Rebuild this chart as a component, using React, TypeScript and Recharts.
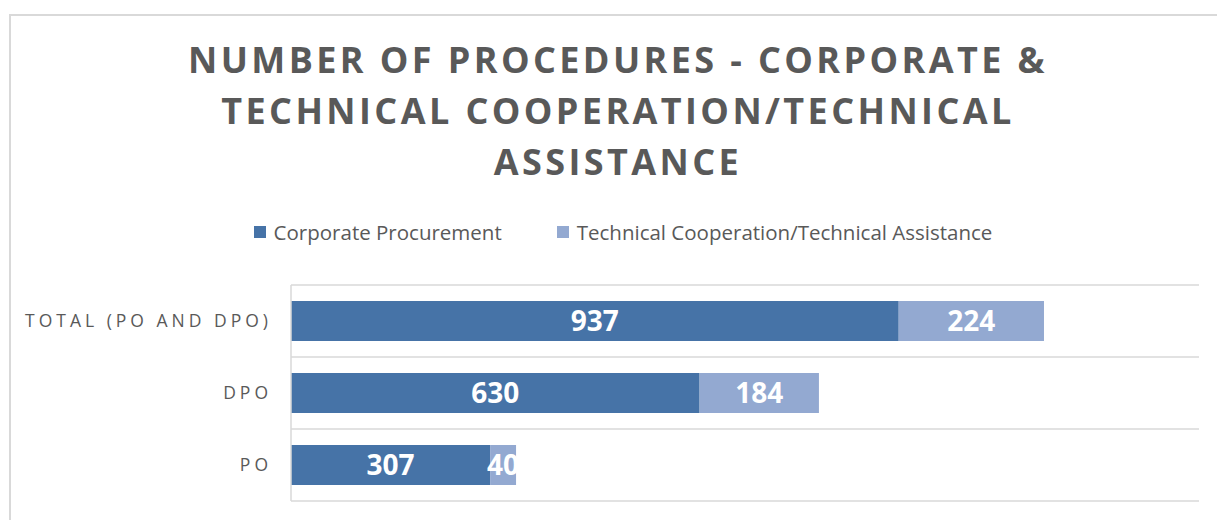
import React from "react";
import { BarChart, Bar, XAxis, YAxis, CartesianGrid, LabelList, Legend } from "recharts";

const categories = ["TOTAL (PO AND DPO)", "DPO", "PO"];
const corporate = [937, 630, 307];
const technical = [224, 184, 40];
const seriesNames = ["Corporate Procurement", "Technical Cooperation/Technical Assistance"];
const titleLines = ["NUMBER OF PROCEDURES - CORPORATE &", "TECHNICAL COOPERATION/TECHNICAL", "ASSISTANCE"];

const COLORS = ["#4673A7", "#93A9D1"];
const TEXT = "#595959";
const GRID = "#D9D9D9";
const FONT = "'Open Sans', sans-serif";

const data = categories.map((c, i) => ({ name: c, corporate: corporate[i], technical: technical[i] }));

const LegendContent = () => (
  <div style={{ display: "flex", justifyContent: "center", fontFamily: FONT, fontSize: 20.5, color: TEXT }}>
    {seriesNames.map((n, i) => (
      <div key={n} style={{ display: "flex", alignItems: "center", marginRight: i === 0 ? 55 : 0 }}>
        <span style={{ width: 12, height: 12, background: COLORS[i], display: "inline-block", marginRight: 8 }} />
        <span>{n}</span>
      </div>
    ))}
  </div>
);

const YTick = (props: any) => {
  const { x, y, payload } = props;
  return (
    <text x={x} y={y} dy={6} textAnchor="end" fill={TEXT} fontFamily={FONT} fontSize={17.5} letterSpacing={4}>
      {payload.value}
    </text>
  );
};

export default function App() {
  return (
    <div style={{ position: "absolute", left: 0, top: 0, width: 1217, height: 520, overflow: "hidden", background: "#fff" }}>
      <div style={{ position: "absolute", left: 9, top: 14, width: 1400, height: 700, border: `2px solid ${GRID}`, boxSizing: "border-box" }} />
      <div
        style={{
          position: "absolute",
          left: 0,
          top: 34,
          width: 1236,
          textAlign: "center",
          fontFamily: FONT,
          fontWeight: 700,
          fontSize: 36,
          lineHeight: "51px",
          letterSpacing: 3.4,
          color: TEXT,
        }}
      >
        {titleLines.map((l) => (
          <div key={l}>{l}</div>
        ))}
      </div>
      <div style={{ position: "absolute", left: 0, top: 0 }}>
        <BarChart
          width={1217}
          height={520}
          data={data}
          layout="vertical"
          margin={{ top: 285, right: 18, bottom: 19, left: 91 }}
          barSize={40}
        >
          <CartesianGrid
            vertical={false}
            stroke={GRID}
            strokeWidth={1.5}
            horizontalCoordinatesGenerator={({ offset }: any) => {
              const n = categories.length;
              return Array.from({ length: n + 1 }, (_, i) => offset.top + (offset.height * i) / n);
            }}
          />
          <XAxis type="number" domain={[0, 1400]} hide />
          <YAxis
            type="category"
            dataKey="name"
            width={200}
            axisLine={{ stroke: GRID, strokeWidth: 1.5 }}
            tickLine={false}
            tickSize={0}
            tickMargin={19}
            tick={<YTick />}
          />
          <Legend
            layout="horizontal"
            verticalAlign="middle"
            align="center"
            content={<LegendContent />}
            wrapperStyle={{ top: 218, left: 0, width: 1246 }}
          />
          <Bar dataKey="corporate" name={seriesNames[0]} stackId="a" fill={COLORS[0]} isAnimationActive={false}>
            <LabelList dataKey="corporate" position="center" fill="#fff" fontFamily={FONT} fontWeight={700} fontSize={28} />
          </Bar>
          <Bar dataKey="technical" name={seriesNames[1]} stackId="a" fill={COLORS[1]} isAnimationActive={false}>
            <LabelList dataKey="technical" position="center" fill="#fff" fontFamily={FONT} fontWeight={700} fontSize={28} />
          </Bar>
        </BarChart>
      </div>
    </div>
  );
}
